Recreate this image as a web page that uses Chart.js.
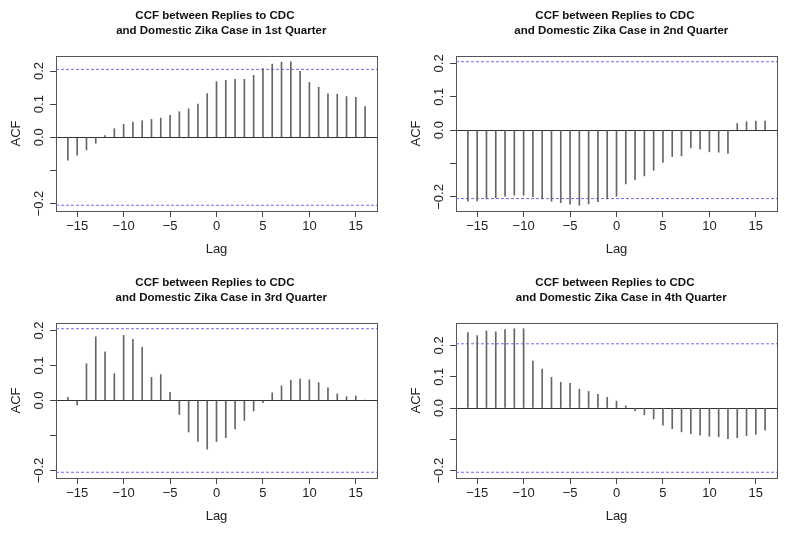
<!DOCTYPE html>
<html>
<head>
<meta charset="utf-8">
<script src="https://cdn.jsdelivr.net/npm/chart.js@4.4.1/dist/chart.umd.min.js"></script>
<style>
  html, body { margin: 0; padding: 0; background: #ffffff; }
  #wrap { position: relative; width: 800px; height: 534px; background: #ffffff; }
  .cell { position: absolute; width: 400px; height: 267px; }
  .cell canvas { display: block; }
</style>
</head>
<body>
<div id="wrap">
  <div class="cell" style="left:0;top:0"><canvas id="c1" width="400" height="267"></canvas></div>
  <div class="cell" style="left:400px;top:0"><canvas id="c2" width="400" height="267"></canvas></div>
  <div class="cell" style="left:0;top:267px"><canvas id="c3" width="400" height="267"></canvas></div>
  <div class="cell" style="left:400px;top:267px"><canvas id="c4" width="400" height="267"></canvas></div>
</div>
<script>
// ---- data ----
const lags = [-16,-15,-14,-13,-12,-11,-10,-9,-8,-7,-6,-5,-4,-3,-2,-1,0,1,2,3,4,5,6,7,8,9,10,11,12,13,14,15,16];

const q1Values = [-0.069,-0.054,-0.038,-0.018,0.005,0.026,0.039,0.046,0.050,0.054,0.058,0.066,0.077,0.086,0.100,0.132,
                  0.168,0.172,0.175,0.175,0.187,0.207,0.221,0.227,0.228,0.199,0.166,0.151,0.131,0.130,0.123,0.121,0.093];
const q2Values = [-0.213,-0.212,-0.206,-0.203,-0.198,-0.195,-0.195,-0.199,-0.206,-0.213,-0.217,-0.222,-0.225,-0.221,-0.214,-0.206,
                  -0.198,-0.161,-0.148,-0.137,-0.120,-0.097,-0.079,-0.077,-0.053,-0.057,-0.065,-0.066,-0.070,0.020,0.025,0.027,0.027];
const q3Values = [0.009,-0.013,0.105,0.182,0.139,0.077,0.186,0.175,0.152,0.066,0.074,0.023,-0.040,-0.090,-0.117,-0.139,
                  -0.117,-0.106,-0.081,-0.057,-0.030,-0.006,0.022,0.042,0.058,0.061,0.059,0.051,0.036,0.019,0.011,0.013,0.001];
const q4Values = [0.241,0.231,0.246,0.243,0.250,0.253,0.253,0.150,0.124,0.098,0.082,0.079,0.060,0.053,0.044,0.034,
                  0.022,0.007,-0.009,-0.022,-0.035,-0.055,-0.066,-0.076,-0.082,-0.087,-0.090,-0.092,-0.098,-0.095,-0.088,-0.084,-0.071];

const ciBounds = [0.205, 0.205, 0.205, 0.205];

const titles = [
  ["CCF between Replies to CDC ", "   and Domestic Zika Case in 1st Quarter"],
  ["CCF between Replies to CDC ", "   and Domestic Zika Case in 2nd Quarter"],
  ["CCF between Replies to CDC ", "   and Domestic Zika Case in 3rd Quarter"],
  ["CCF between Replies to CDC ", "   and Domestic Zika Case in 4th Quarter"]
];

const xTicks = [-15, -10, -5, 0, 5, 10, 15];
const xTickLabels = ["\u221215", "\u221210", "\u22125", "0", "5", "10", "15"];
const yTicks = [-0.2, -0.1, 0, 0.1, 0.2];
const yTickLabels = ["\u22120.2", "", "0.0", "0.1", "0.2"];

// ---- drawing ----
Chart.defaults.font.family = "'Liberation Sans', Arial, Helvetica, sans-serif";
Chart.defaults.color = '#222';

function makeChart(id, values, ci, titleLines) {
  // R-style limits: range of data and confidence bounds, extended by 4%
  const lagLo = Math.min(...lags), lagHi = Math.max(...lags);
  const xPad = (lagHi - lagLo) * 0.04;
  const xlo = lagLo - xPad, xhi = lagHi + xPad;
  const dLo = Math.min(-ci, ...values), dHi = Math.max(ci, ...values);
  const yPad = (dHi - dLo) * 0.04;
  const ylo = dLo - yPad, yhi = dHi + yPad;

  const spikes = lags.map((l, i) => ({ x: l, y: values[i] }));

  new Chart(document.getElementById(id), {
    type: 'bar',
    data: {
      datasets: [
        {
          type: 'bar',
          data: spikes,
          backgroundColor: '#666666',
          borderWidth: 0,
          barThickness: 1,
          xAxisID: 'x', yAxisID: 'y'
        },
        {
          type: 'line',
          data: [{ x: xlo, y: ci }, { x: xhi, y: ci }],
          borderColor: '#6f6fe6',
          borderWidth: 1,
          borderDash: [3, 2],
          pointRadius: 0,
          xAxisID: 'x', yAxisID: 'y'
        },
        {
          type: 'line',
          data: [{ x: xlo, y: -ci }, { x: xhi, y: -ci }],
          borderColor: '#6f6fe6',
          borderWidth: 1,
          borderDash: [3, 2],
          pointRadius: 0,
          xAxisID: 'x', yAxisID: 'y'
        }
      ]
    },
    options: {
      responsive: false,
      animation: false,
      events: [],
      layout: { padding: { left: 0, right: 23, top: 0, bottom: 0 } },
      plugins: { legend: { display: false }, tooltip: { enabled: false }, title: { display: false } },
      scales: {
        x: {
          type: 'linear',
          position: 'bottom',
          offset: false,
          min: xlo, max: xhi,
          afterBuildTicks: s => { s.ticks = xTicks.map(v => ({ value: v })); },
          afterFit: s => { s.height = 56; },
          ticks: {
            autoSkip: false, maxRotation: 0, minRotation: 0,
            padding: 2,
            font: { size: 13 },
            color: '#222',
            callback: (v) => { const i = xTicks.indexOf(v); return i >= 0 ? xTickLabels[i] : ''; }
          },
          grid: { display: true, drawOnChartArea: false, drawTicks: true, tickLength: 6, tickColor: '#444', offset: false },
          border: { display: true, color: '#555', width: 1 },
          title: { display: true, text: 'Lag', font: { size: 13 }, color: '#222', padding: { top: 0, bottom: 10 } }
        },
        y: {
          type: 'linear',
          position: 'left',
          min: ylo, max: yhi,
          afterBuildTicks: s => { s.ticks = yTicks.map(v => ({ value: v })); },
          afterFit: s => { s.width = 56; },
          ticks: {
            autoSkip: false, minRotation: 90, maxRotation: 90,
            crossAlign: 'center',
            padding: -2,
            font: { size: 13 },
            color: '#222',
            callback: (v) => { const i = yTicks.findIndex(t => Math.abs(t - v) < 1e-9); return i >= 0 ? yTickLabels[i] : ''; }
          },
          grid: {
            display: true, drawOnChartArea: true, drawTicks: true, tickLength: 6, tickColor: '#444',
            color: (ctx) => (ctx.tick && Math.abs(ctx.tick.value) < 1e-9) ? '#333' : 'rgba(0,0,0,0)',
            lineWidth: 1
          },
          border: { display: true, color: '#555', width: 1 },
          title: { display: true, text: 'ACF', font: { size: 13 }, color: '#222', padding: { top: 9, bottom: 0 } }
        },
        x2: {
          type: 'linear',
          position: 'top',
          min: xlo, max: xhi,
          afterFit: s => { s.height = 56; },
          ticks: { display: false },
          grid: { display: false, drawTicks: false },
          border: { display: true, color: '#555', width: 1 },
          title: {
            display: true, text: titleLines,
            font: { size: 11.5, weight: 'bold', lineHeight: 15 / 11.5 },
            color: '#111',
            padding: { top: 8.5, bottom: 0 }
          }
        },
        y2: {
          type: 'linear',
          position: 'right',
          min: ylo, max: yhi,
          afterFit: s => { s.width = 0; },
          ticks: { display: false },
          grid: { display: false, drawTicks: false },
          border: { display: true, color: '#555', width: 1 }
        }
      }
    }
  });
}

makeChart('c1', q1Values, ciBounds[0], titles[0]);
makeChart('c2', q2Values, ciBounds[1], titles[1]);
makeChart('c3', q3Values, ciBounds[2], titles[2]);
makeChart('c4', q4Values, ciBounds[3], titles[3]);
</script>
</body>
</html>
